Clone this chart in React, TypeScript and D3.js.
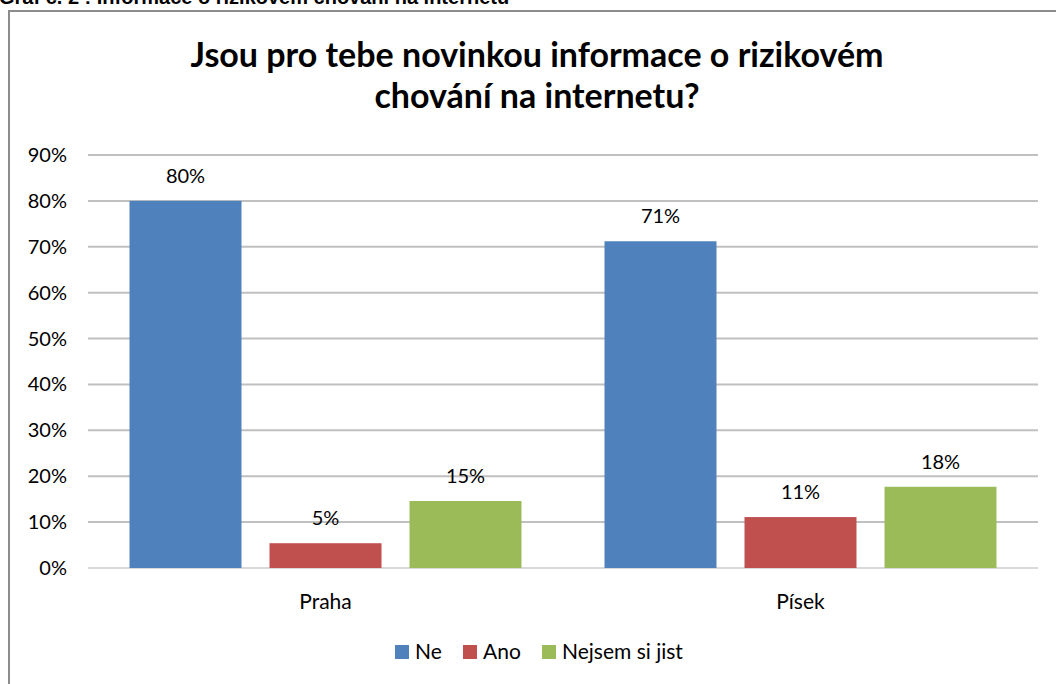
import React, { useEffect, useRef } from 'react';
import * as d3 from 'd3';

const categories = ['Praha', 'Písek'];
const seriesNames = ['Ne', 'Ano', 'Nejsem si jist'];
const seriesColors = ['#4F81BD', '#C0504D', '#9BBB59'];
// values per category, in series order (percent)
const prahaValues = [80, 5.4, 14.6];
const pisekValues = [71.2, 11.1, 17.7];
const yTicks = [0, 10, 20, 30, 40, 50, 60, 70, 80, 90];

const titleLines = ['Jsou pro tebe novinkou informace o rizikovém', 'chování na internetu?'];
const caption = 'Graf č. 2 : Informace o rizikovém chování na internetu';

const width = 1056;
const height = 684;
const font = 'Lato, "Open Sans", sans-serif';

const App: React.FC = () => {
  const svgRef = useRef<SVGSVGElement>(null);

  useEffect(() => {
    if (!svgRef.current) return;
    const svg = d3.select(svgRef.current);
    svg.selectAll('*').remove();

    const rows = [prahaValues, pisekValues];
    const plot = { left: 88, right: 1038, top: 155, bottom: 568 };

    const x0 = d3.scaleBand<string>().domain(categories).range([plot.left, plot.right]);
    const outer = 41.5;
    const x1 = d3
      .scaleBand<string>()
      .domain(seriesNames)
      .range([outer, x0.bandwidth() - outer])
      .paddingInner(0.2)
      .paddingOuter(0);
    const y = d3.scaleLinear().domain([0, 90]).range([plot.bottom, plot.top]);

    // caption above the chart frame (cut off at the top in the original)
    svg
      .append('text')
      .attr('x', -1)
      .attr('y', 4)
      .attr('font-family', '"Liberation Sans", Arial, sans-serif')
      .attr('font-weight', 'bold')
      .attr('font-size', '20px')
      .attr('fill', '#000')
      .text(caption);

    // chart frame
    svg
      .append('path')
      .attr('d', `M9,${height} V11 H${width}`)
      .attr('fill', 'none')
      .attr('stroke', '#8c8c8c')
      .attr('stroke-width', 2);

    // title
    svg
      .append('g')
      .selectAll('text')
      .data(titleLines)
      .enter()
      .append('text')
      .attr('x', 537)
      .attr('y', (d, i) => 67 + i * 41)
      .attr('text-anchor', 'middle')
      .attr('font-family', font)
      .attr('font-weight', 'bold')
      .attr('font-size', '34px')
      .attr('fill', '#000')
      .text(d => d);

    // gridlines
    svg
      .append('g')
      .selectAll('line')
      .data(yTicks)
      .enter()
      .append('line')
      .attr('x1', plot.left)
      .attr('x2', plot.right)
      .attr('y1', d => y(d))
      .attr('y2', d => y(d))
      .attr('stroke', d => (d === 0 ? '#d9d9d9' : '#c0c0c0'))
      .attr('stroke-width', 2);

    // y tick labels
    svg
      .append('g')
      .selectAll('text')
      .data(yTicks)
      .enter()
      .append('text')
      .attr('x', 67)
      .attr('y', d => y(d) + 7)
      .attr('text-anchor', 'end')
      .attr('font-family', font)
      .attr('font-size', '20px')
      .attr('fill', '#000')
      .text(d => `${d}%`);

    // bars
    const groups = svg
      .append('g')
      .selectAll('g')
      .data(categories)
      .enter()
      .append('g')
      .attr('transform', d => `translate(${x0(d)},0)`);

    groups
      .selectAll('rect')
      .data((c, ci) => rows[ci].map((v, si) => ({ v, s: seriesNames[si], color: seriesColors[si] })))
      .enter()
      .append('rect')
      .attr('x', d => x1(d.s)!)
      .attr('y', d => y(d.v))
      .attr('width', x1.bandwidth())
      .attr('height', d => plot.bottom - y(d.v))
      .attr('fill', d => d.color);

    groups
      .selectAll('text.val')
      .data((c, ci) => rows[ci].map((v, si) => ({ v, s: seriesNames[si] })))
      .enter()
      .append('text')
      .attr('class', 'val')
      .attr('x', d => x1(d.s)! + x1.bandwidth() / 2)
      .attr('y', d => y(d.v) - 18)
      .attr('text-anchor', 'middle')
      .attr('font-family', font)
      .attr('font-size', '20px')
      .attr('fill', '#000')
      .text(d => `${Math.round(d.v)}%`);

    // category labels
    svg
      .append('g')
      .selectAll('text')
      .data(categories)
      .enter()
      .append('text')
      .attr('x', d => x0(d)! + x0.bandwidth() / 2)
      .attr('y', 609)
      .attr('text-anchor', 'middle')
      .attr('font-family', font)
      .attr('font-size', '21px')
      .attr('fill', '#000')
      .text(d => d);

    // legend
    const legendX = [395, 463, 542];
    const legend = svg
      .append('g')
      .selectAll('g')
      .data(seriesNames)
      .enter()
      .append('g')
      .attr('transform', (d, i) => `translate(${legendX[i]},645)`);

    legend
      .append('rect')
      .attr('width', 14)
      .attr('height', 14)
      .attr('fill', (d, i) => seriesColors[i]);

    legend
      .append('text')
      .attr('x', 20)
      .attr('y', 14)
      .attr('font-family', font)
      .attr('font-size', '21px')
      .attr('fill', '#000')
      .text(d => d);
  }, []);

  return (
    <svg
      ref={svgRef}
      width={width}
      height={height}
      style={{ position: 'absolute', left: 0, top: 0, background: '#fff' }}
    />
  );
};

export default App;
